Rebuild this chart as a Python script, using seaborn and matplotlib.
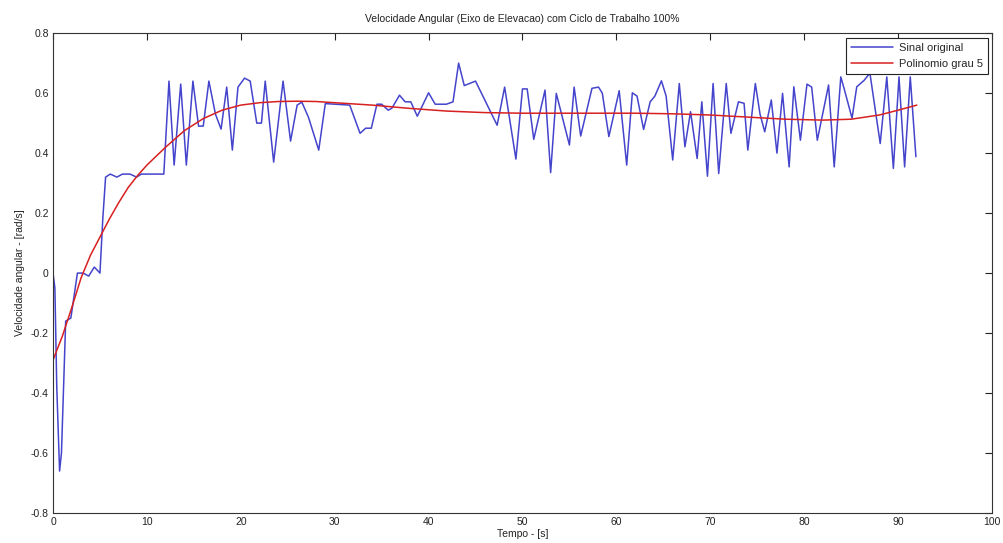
import numpy as np
import pandas as pd
import matplotlib
matplotlib.use("Agg")
import matplotlib.pyplot as plt
import seaborn as sns

# ---- data ----
sig_t = [0, 0.2, 0.4, 0.7, 0.9, 1.1, 1.35, 1.9, 2.6, 3.2, 3.8, 4.4, 5.0, 5.3, 5.6, 6.1, 6.8, 7.4,
         8.2, 8.9, 9.4, 11.8,
         12.35, 12.9, 13.6, 14.2, 14.9, 15.5, 16.0, 16.6, 17.3, 17.9, 18.5, 19.1, 19.7, 20.4, 21.0,
         21.7, 22.2, 22.6, 23.5, 24.5, 25.3, 26.0, 26.5, 27.2, 28.3, 29.0, 31.6, 32.7, 33.3, 33.9,
         34.5, 35.0, 35.7, 36.1, 36.9, 37.5, 38.1, 38.8, 40.0, 40.7, 41.9, 42.6, 43.2, 43.8, 45.0,
         47.3, 48.1, 49.3, 50.0, 50.5, 51.2, 52.4, 53.0, 53.6, 55.0, 55.5, 56.2, 57.4, 58.1, 58.5,
         59.2, 60.3, 61.1, 61.7, 62.2, 62.9, 63.6, 64.1, 64.8, 65.3, 66.0, 66.7, 67.3, 67.9, 68.6,
         69.1, 69.7, 70.3, 70.9, 71.7, 72.2, 73.0, 73.6, 74.0, 74.8, 75.3, 75.8, 76.5, 77.1, 77.7,
         78.4, 78.9, 79.6, 80.3, 80.8, 81.4, 82.6, 83.2, 83.9, 84.3, 85.1, 85.6, 86.4, 87.0, 88.1,
         88.8, 89.5, 90.1, 90.7, 91.3, 91.9]
sig_v = [0.0, -0.05, -0.38, -0.66, -0.6, -0.4, -0.16, -0.15, 0.0, 0.0, -0.01, 0.02, 0.0, 0.18,
         0.32, 0.33, 0.32, 0.33, 0.33, 0.32, 0.33, 0.33,
         0.64, 0.36, 0.63, 0.36, 0.64, 0.49, 0.49, 0.64, 0.53, 0.48, 0.62, 0.41, 0.62, 0.65, 0.64,
         0.50, 0.50, 0.64, 0.37, 0.64, 0.44, 0.56, 0.57, 0.52, 0.41, 0.565, 0.56, 0.466, 0.483, 0.483,
         0.563, 0.563, 0.543, 0.55, 0.593, 0.571, 0.571, 0.523, 0.601, 0.563, 0.563, 0.571, 0.70, 0.625, 0.64,
         0.493, 0.62, 0.38, 0.614, 0.614, 0.446, 0.61, 0.335, 0.599, 0.427, 0.62, 0.457, 0.616, 0.62, 0.60,
         0.455, 0.608, 0.36, 0.601, 0.59, 0.479, 0.571, 0.59, 0.641, 0.59, 0.377, 0.632, 0.421, 0.538, 0.382,
         0.571, 0.323, 0.632, 0.332, 0.632, 0.466, 0.571, 0.566, 0.41, 0.632, 0.53, 0.471, 0.577, 0.40, 0.599,
         0.354, 0.621, 0.443, 0.63, 0.62, 0.443, 0.627, 0.354, 0.654, 0.61, 0.516, 0.621, 0.643, 0.667, 0.432,
         0.654, 0.349, 0.654, 0.354, 0.654, 0.388]

fit_t = [0, 1, 2, 3, 4, 5, 6, 7, 8, 9, 10, 12, 14, 16, 18, 20, 22, 24, 26, 28, 30, 34, 38, 42,
         46, 50, 54, 58, 62, 66, 70, 74, 78, 82, 85, 88, 90, 92]
fit_v = [-0.29, -0.21, -0.115, -0.015, 0.06, 0.12, 0.18, 0.235, 0.285, 0.325, 0.36, 0.42, 0.475,
         0.515, 0.543, 0.56, 0.568, 0.572, 0.573, 0.572, 0.568, 0.56, 0.549, 0.54, 0.535, 0.533,
         0.533, 0.533, 0.533, 0.531, 0.527, 0.52, 0.513, 0.51, 0.513, 0.527, 0.543, 0.56]

x_ticks = [0, 10, 20, 30, 40, 50, 60, 70, 80, 90, 100]
y_ticks = [-0.8, -0.6, -0.4, -0.2, 0, 0.2, 0.4, 0.6, 0.8]
y_tick_labels = ["-0.8", "-0.6", "-0.4", "-0.2", "0", "0.2", "0.4", "0.6", "0.8"]

title = "Velocidade Angular (Eixo de Elevacao) com Ciclo de Trabalho 100%"
xlabel = "Tempo - [s]"
ylabel = "Velocidade angular - [rad/s]"
labels = ["Sinal original", "Polinomio grau 5"]

# ---- plot ----
sns.set_style("white")
plt.rcParams["font.family"] = ["Liberation Sans", "DejaVu Sans"]

fig = plt.figure(figsize=(10.04, 5.43), dpi=100)
ax = fig.add_axes([0.0528, 0.0552, 0.9352, 0.8838])

df_sig = pd.DataFrame({"t": sig_t, "v": sig_v})
df_fit = pd.DataFrame({"t": fit_t, "v": fit_v})

sns.lineplot(data=df_sig, x="t", y="v", ax=ax, color="#4444cc", linewidth=1.1,
             sort=False, estimator=None, label=labels[0])
sns.lineplot(data=df_fit, x="t", y="v", ax=ax, color="#d82020", linewidth=1.1,
             sort=False, estimator=None, label=labels[1])

ax.set_xlim(0, 100)
ax.set_ylim(-0.8, 0.8)
ax.set_xticks(x_ticks)
ax.set_xticklabels([str(v) for v in x_ticks])
ax.set_yticks(y_ticks)
ax.set_yticklabels(y_tick_labels)
ax.tick_params(direction="in", length=5, width=0.8, top=True, right=True,
               labelsize=7.5, colors="#222222", pad=3)
for s in ax.spines.values():
    s.set_visible(True)
    s.set_color("#333333")
    s.set_linewidth(0.8)

ax.set_title(title, fontsize=7.5, color="#222222", pad=8)
ax.set_xlabel(xlabel, fontsize=7.5, color="#222222", labelpad=1)
ax.set_ylabel(ylabel, fontsize=7.5, color="#222222", labelpad=4)

leg = ax.legend(loc="upper right", fontsize=8, frameon=True, fancybox=False,
                edgecolor="#222222", framealpha=1, borderaxespad=0.4,
                handlelength=3.8, borderpad=0.45, labelspacing=0.55, handletextpad=0.5)
leg.get_frame().set_linewidth(0.8)

fig.savefig("out.png", dpi=100)
